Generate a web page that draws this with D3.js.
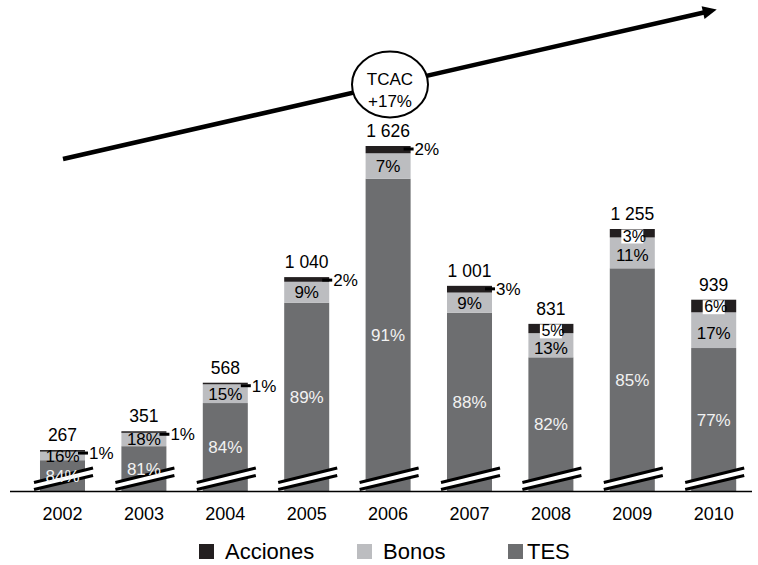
<!DOCTYPE html>
<html><head><meta charset="utf-8">
<script src="https://cdn.jsdelivr.net/npm/d3@7"></script>
<style>body{margin:0;background:#fff}svg{display:block}text{font-family:"Liberation Sans",Arial,sans-serif}</style>
</head><body><svg id="c" width="758" height="565"></svg>
<script>
const years = ["2002","2003","2004","2005","2006","2007","2008","2009","2010"];
const totals = [267,351,568,1040,1626,1001,831,1255,939];
const totalLabels = ["267","351","568","1 040","1 626","1 001","831","1 255","939"];
const acciones = [1,1,1,2,2,3,5,3,6];
const bonos = [16,18,15,9,7,9,13,11,17];
const tes = [84,81,84,89,91,88,82,85,77];
const seriesNames = ["Acciones","Bonos","TES"];
const colors = {Acciones:"#231f20", Bonos:"#bcbdc0", TES:"#6d6e70"};
const growthLabel = ["TCAC","+17%"];

const svg = d3.select("#c");
const baseY = 491;
const x = d3.scaleBand().domain(years).range([21.8, 754.4]).paddingInner(0.447).paddingOuter(0.2235);
const y = d3.scaleLinear().domain([84, 1626]).range([baseY, 146]);
const bw = x.bandwidth();

// growth arrow
const ax0 = 63, ay0 = 159, ax1 = 706, ay1 = 12;
svg.append("line").attr("x1",ax0).attr("y1",ay0).attr("x2",ax1).attr("y2",ay1)
  .attr("stroke","#000").attr("stroke-width",4.5);
(function(){
  const ang = Math.atan2(ay1-ay0, ax1-ax0);
  const tipX = ax1 + 11*Math.cos(ang), tipY = ay1 + 11*Math.sin(ang);
  const bx = ax1 - 3*Math.cos(ang), by = ay1 - 3*Math.sin(ang);
  const px = -Math.sin(ang)*6.5, py = Math.cos(ang)*6.5;
  svg.append("polygon").attr("points",`${tipX},${tipY} ${bx+px},${by+py} ${bx-px},${by-py}`).attr("fill","#000");
})();
svg.append("ellipse").attr("cx",390).attr("cy",84.5).attr("rx",38).attr("ry",33)
  .attr("fill","#fff").attr("stroke","#000").attr("stroke-width",2);
svg.append("text").attr("x",390).attr("y",85).attr("text-anchor","middle").attr("font-size",17).text(growthLabel[0]);
svg.append("text").attr("x",390).attr("y",107).attr("text-anchor","middle").attr("font-size",17).text(growthLabel[1]);

const g = svg.append("g");
years.forEach((yr,i)=>{
  const x0 = x(yr), x1 = x0 + bw, cx = x0 + bw/2;
  const t = totals[i];
  const yTop = y(t);
  const yAcc = y(t*(1-acciones[i]/100));
  const yBon = y(t*(1-(acciones[i]+bonos[i])/100));
  // TES
  g.append("rect").attr("x",x0).attr("y",yBon).attr("width",bw).attr("height",baseY-yBon).attr("fill",colors.TES);
  g.append("rect").attr("x",x0).attr("y",yAcc).attr("width",bw).attr("height",yBon-yAcc).attr("fill",colors.Bonos);
  g.append("rect").attr("x",x0).attr("y",yTop).attr("width",bw).attr("height",Math.max(yAcc-yTop,1.5)).attr("fill",colors.Acciones);

  // break marks
  const lx = x0-6, rx = x1+8;
  g.append("polygon").attr("points",`${lx},${489.5} ${rx},${475.5} ${rx},${468} ${lx},${482.5}`).attr("fill","#fff");
  g.append("line").attr("x1",lx).attr("y1",482.5).attr("x2",rx).attr("y2",468).attr("stroke","#000").attr("stroke-width",3);
  g.append("line").attr("x1",lx).attr("y1",489.5).attr("x2",rx).attr("y2",475.5).attr("stroke","#000").attr("stroke-width",3);

  // total label
  g.append("text").attr("x",cx).attr("y",yTop-9).attr("text-anchor","middle").attr("font-size",17.5).text(totalLabels[i]);
  // bonos label
  g.append("text").attr("x",cx).attr("y",(yAcc+yBon)/2 + (yAcc-yTop>=8?2.5:0)).attr("dy","0.36em").attr("text-anchor","middle")
    .attr("font-size",17).attr("fill","#000").text(bonos[i]+"%");
  // TES label
  g.append("text").attr("x",cx).attr("y",(yBon+baseY)/2).attr("dy","0.36em").attr("text-anchor","middle")
    .attr("font-size",17).attr("fill","#f2f2f2").text(tes[i]+"%");
  // acciones label
  if (yAcc - yTop < 8) {
    const ly = yTop + 3;
    g.append("line").attr("x1",x1-7).attr("y1",ly).attr("x2",x1+3).attr("y2",ly).attr("stroke","#000").attr("stroke-width",3);
    g.append("text").attr("x",x1+4).attr("y",ly).attr("dy","0.36em").attr("font-size",17).text(acciones[i]+"%");
  } else {
    g.append("rect").attr("x",cx-11).attr("y",yTop+0.5).attr("width",22).attr("height",14).attr("fill","#fff");
    g.append("text").attr("x",cx-9.5).attr("y",yTop+7).attr("dy","0.35em").attr("font-size",16).text(acciones[i]+"%");
  }
});

// baseline
svg.append("line").attr("x1",10).attr("y1",baseY+0.5).attr("x2",752).attr("y2",baseY+0.5).attr("stroke","#000").attr("stroke-width",1.5);

// x axis labels
const xAxis = d3.axisBottom(x).tickSize(0).tickPadding(0);
const axg = svg.append("g").attr("transform",`translate(0,${baseY})`).call(xAxis);
axg.select(".domain").remove();
axg.selectAll("text").attr("font-size",18).attr("font-family","Liberation Sans, Arial, sans-serif")
  .attr("fill","#000").attr("dy",null).attr("y",29);

// legend
const legX = [199, 357, 508];
const leg = svg.append("g");
seriesNames.forEach((s,i)=>{
  leg.append("rect").attr("x",legX[i]).attr("y",544).attr("width",15).attr("height",15).attr("fill",colors[s]);
  leg.append("text").attr("x",legX[i]+(i===2?19:26)).attr("y",559).attr("font-size",22).text(s);
});
</script></body></html>
